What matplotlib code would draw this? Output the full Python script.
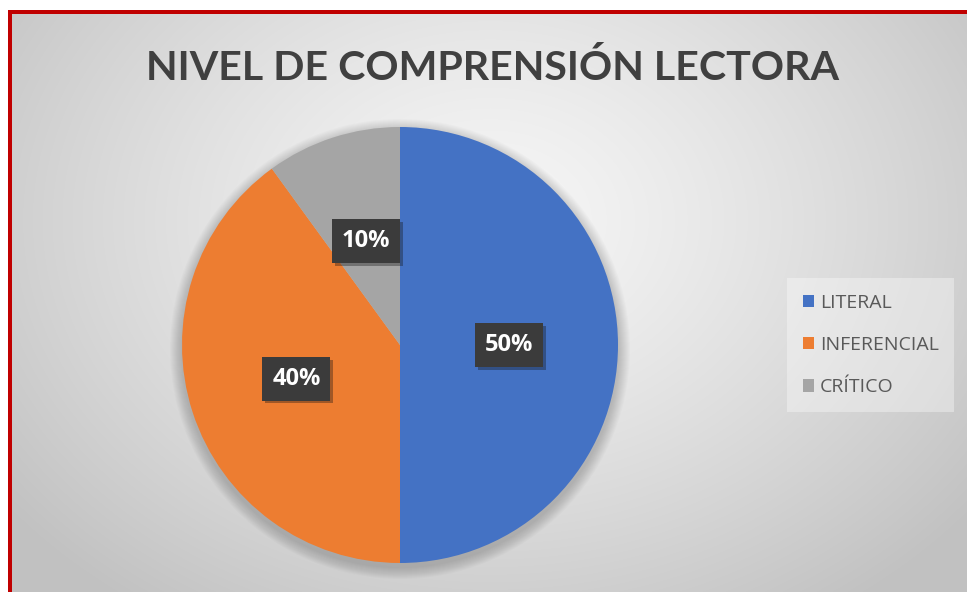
import numpy as np
import matplotlib.pyplot as plt
from matplotlib.patches import Rectangle, Circle
from matplotlib import patheffects as pe

# data
categories = ["LITERAL", "INFERENCIAL", "CRÍTICO"]
values = [50, 40, 10]
colors = ["#4472C4", "#ED7D31", "#A5A5A5"]
title = "NIVEL DE COMPRENSIÓN LECTORA"

W, H = 967, 592
fig = plt.figure(figsize=(W / 100, H / 100), dpi=100)
fig.patch.set_facecolor("white")

# background: radial grey gradient inside the red frame
bg = fig.add_axes([0, 0, 1, 1], zorder=0)
bg.set_axis_off()
yy, xx = np.mgrid[0:H, 0:W]
r = np.sqrt(((xx - 490) / 620.0) ** 2 + ((yy - 220) / 480.0) ** 2)
shade = np.clip(0.965 - 0.21 * r ** 1.3, 0.76, 1.0)
img = np.dstack([shade, shade, shade])
bg.imshow(img, extent=(0, W, 0, H), origin="upper", aspect="auto")
bg.set_xlim(0, W)
bg.set_ylim(0, H)
# white margin + red frame (top and left)
bg.add_patch(Rectangle((0, H - 10), W, 10, color="white", lw=0))
bg.add_patch(Rectangle((0, 0), 8, H, color="white", lw=0))
bg.add_patch(Rectangle((8, H - 14), W - 8, 4, color="#C00000", lw=0))
bg.add_patch(Rectangle((8, 0), 4, H - 10, color="#C00000", lw=0))

ax = fig.add_axes([0, 0, 1, 1], zorder=1)
ax.patch.set_alpha(0)

cx, cy, R = 400, H - 345, 218

# soft shadow behind the pie
for k in range(12):
    ax.add_patch(Circle((cx, cy - 4), R + 12 - k, color="black", alpha=0.014, lw=0))

wedges, _, autotexts = ax.pie(
    values, colors=colors, startangle=90, counterclock=False,
    center=(cx, cy), radius=R, autopct="%1.0f%%", pctdistance=0.5,
    textprops=dict(color="white", fontsize=17, fontweight="bold", family="Open Sans"),
    wedgeprops=dict(linewidth=0),
)
for t in autotexts:
    t.set_bbox(dict(boxstyle="square,pad=0.42", fc="#3b3b3b", ec="none"))
    t.get_bbox_patch().set_path_effects(
        [pe.SimplePatchShadow(offset=(2, -2), alpha=0.35), pe.Normal()]
    )

ax.set_xlim(0, W)
ax.set_ylim(0, H)
ax.set_aspect("equal")
ax.set_axis_off()

ax.text(493, H - 68, title, ha="center", va="center", fontsize=29.6,
        fontweight="bold", color="#404040", family="Lato")

leg = ax.legend(
    wedges, categories, loc="center left", bbox_to_anchor=(787 / W, 1 - 345 / H),
    frameon=True, fancybox=False, handlelength=0.6, handleheight=0.6,
    handletextpad=0.3, labelspacing=1.25, borderpad=0.8, borderaxespad=0,
    prop=dict(family="Open Sans", size=14),
)
leg.get_frame().set_facecolor("white")
leg.get_frame().set_alpha(0.35)
leg.get_frame().set_edgecolor("none")
for txt in leg.get_texts():
    txt.set_color("#595959")

fig.savefig("out.png", dpi=100)
